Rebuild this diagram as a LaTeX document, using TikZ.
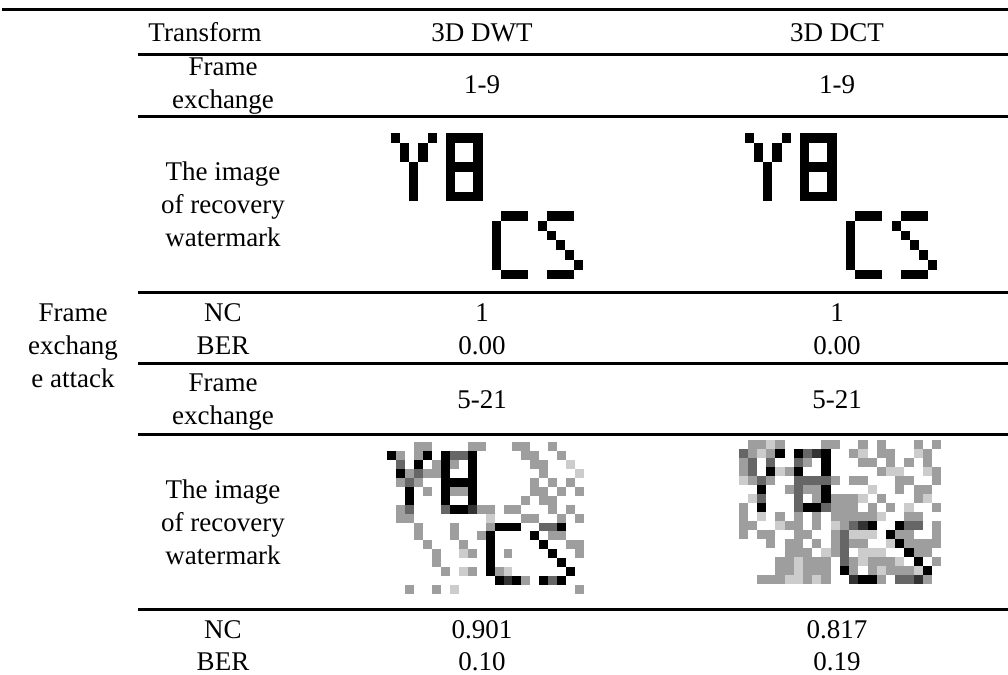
\documentclass[tikz,border=0pt]{standalone}
\usepackage{fontspec}
\setmainfont{Liberation Serif}
\begin{document}
\begin{tikzpicture}[x=1bp,y=-1bp,
  cell/.style={font=\fontsize{27bp}{33bp}\selectfont, inner sep=0pt, anchor=base},
  hrule/.style={line width=3bp},
]
\definecolor{pxK}{gray}{0}
\definecolor{pxD}{gray}{0.2}
\definecolor{pxM}{gray}{0.4}
\definecolor{pxG}{gray}{0.62}
\definecolor{pxL}{gray}{0.8}
\useasboundingbox (0,0) rectangle (1008,675);

% ---------- horizontal rules ----------
\coordinate (r0a) at (2,9.7);     \coordinate (r0b) at (1008,9.7);
\coordinate (r1a) at (138,54.5);  \coordinate (r1b) at (1008,54.5);
\coordinate (r2a) at (138,116.5); \coordinate (r2b) at (1008,116.5);
\coordinate (r3a) at (138,292.3); \coordinate (r3b) at (1008,292.3);
\coordinate (r4a) at (138,363.3); \coordinate (r4b) at (1008,363.3);
\coordinate (r5a) at (138,434.5); \coordinate (r5b) at (1008,434.5);
\coordinate (r6a) at (138,609.3); \coordinate (r6b) at (1008,609.3);
\foreach \i in {0,...,6} \draw[hrule] (r\i a) -- (r\i b);

% ---------- text ----------
\def\cA{73} \def\cB{223} \def\cC{482} \def\cD{837}
\node[cell] (hT) at (205,41.5) {Transform};
\node[cell] (hW) at (\cC,41.5) {3D DWT};
\node[cell] (hC) at (\cD,41.5) {3D DCT};

\node[cell] (feAa) at (\cB,75.5) {Frame};
\node[cell] (feAb) at (\cB,108.5) {exchange};
\node[cell] (feAw) at (\cC,94) {1-9};
\node[cell] (feAc) at (\cD,94) {1-9};

\node[cell] (imAa) at (\cB,180.4) {The image};
\node[cell] (imAb) at (\cB,213.4) {of recovery};
\node[cell] (imAc) at (\cB,246.4) {watermark};

\node[cell] (ncA)  at (\cB,321.7) {NC};
\node[cell] (berA) at (\cB,354.7) {BER};
\node[cell] (ncAw) at (\cC,321.7) {1};
\node[cell] (beAw) at (\cC,354.7) {0.00};
\node[cell] (ncAc) at (\cD,321.7) {1};
\node[cell] (beAc) at (\cD,354.7) {0.00};

\node[cell] (labA) at (\cA,321.7) {Frame};
\node[cell] (labB) at (\cA,354.7) {exchang};
\node[cell] (labC) at (\cA,387.7) {e attack};

\node[cell] (feBa) at (\cB,391.7) {Frame};
\node[cell] (feBb) at (\cB,424.7) {exchange};
\node[cell] (feBw) at (\cC,408) {5-21};
\node[cell] (feBc) at (\cD,408) {5-21};

\node[cell] (imBa) at (\cB,498.4) {The image};
\node[cell] (imBb) at (\cB,531.4) {of recovery};
\node[cell] (imBc) at (\cB,564.4) {watermark};

\node[cell] (ncB)  at (\cB,638.5) {NC};
\node[cell] (berB) at (\cB,670.5) {BER};
\node[cell] (ncBw) at (\cC,638.5) {0.901};
\node[cell] (beBw) at (\cC,670.5) {0.10};
\node[cell] (ncBc) at (\cD,638.5) {0.817};
\node[cell] (beBc) at (\cD,670.5) {0.19};

% ---------- watermark bitmaps ----------
\def\cleanmark{0/0,4/0,1/1,3/1,1/2,3/2,2/3,2/4,2/5,2/6,
 6/0,7/0,8/0,9/0,6/1,9/1,6/2,9/2,6/3,7/3,8/3,9/3,6/4,9/4,6/5,9/5,6/6,7/6,8/6,9/6,
 12/8,13/8,14/8,11/9,11/10,11/11,11/12,11/13,12/14,13/14,14/14,
 17/8,18/8,19/8,16/9,17/10,18/11,19/12,20/13,17/14,18/14,19/14}

\begin{scope}[shift={(391,133.3)},x=9.16bp,y=-9.73bp]
  \foreach \c/\r in \cleanmark \fill[pxK] (\c,\r) rectangle ++(1,1);
\end{scope}
\begin{scope}[shift={(745,133.3)},x=9.16bp,y=-9.73bp]
  \foreach \c/\r in \cleanmark \fill[pxK] (\c,\r) rectangle ++(1,1);
\end{scope}

% DWT recovered after frame exchange 5-21
\begin{scope}[shift={(387.3,451.3)},x=8.94bp,y=-8.9bp]
  \foreach \c/\r in {3/-1,4/-1,9/-1,10/-1,14/-1,15/-1,18/-1,1/0,3/0,15/0,16/0,19/0,
   5/1,7/1,16/1,17/1,2/2,4/2,5/2,17/2,1/3,3/3,16/3,18/3,20/3,
   4/4,7/4,8/4,16/4,17/4,19/4,21/4,15/5,17/5,18/5,1/6,10/6,11/6,13/6,14/6,18/6,20/6,
   1/7,2/7,15/7,16/7,19/7,21/7,3/8,7/8,11/8,3/9,7/9,10/9,18/9,19/9,
   4/10,8/10,20/10,21/10,5/11,9/11,13/11,21/11,5/12,6/13,9/13,12/13,15/14,2/15,5/15,21/15}
   \fill[pxG] (\c,\r) rectangle ++(1,1);
  \foreach \c/\r in {20/1,21/2,11/7,8/11,8/13,13/13,7/15}
   \fill[pxL] (\c,\r) rectangle ++(1,1);
  \foreach \c/\r in {7/0,8/0,1/1,3/2,2/3,2/6,6/6,17/8,18/8,18/14}
   \fill[pxM] (\c,\r) rectangle ++(1,1);
  \foreach \c/\r in {9/6,13/14}
   \fill[pxD] (\c,\r) rectangle ++(1,1);
  \foreach \c/\r in {0/0,4/0,6/0,9/0,3/1,6/1,9/1,1/2,6/2,9/2,6/3,7/3,8/3,9/3,
   2/4,6/4,9/4,2/5,6/5,9/5,7/6,8/6,12/8,13/8,14/8,19/8,11/9,16/9,11/10,17/10,
   11/11,18/11,11/12,19/12,11/13,20/13,12/14,14/14,17/14,19/14}
   \fill[pxK] (\c,\r) rectangle ++(1,1);
\end{scope}

% DCT recovered after frame exchange 5-21
\begin{scope}[shift={(738.5,449)},x=9.22bp,y=-8.98bp]
  \foreach \c/\r in {1/-1,2/-1,4/-1,9/-1,10/-1,13/-1,15/-1,19/-1,21/-1,
   1/0,3/0,12/0,15/0,16/0,20/0,0/1,7/1,13/1,14/1,16/1,18/1,20/1,0/2,5/2,15/2,21/2,
   1/3,3/3,10/3,12/3,13/3,17/3,18/3,21/3,5/4,7/4,8/4,17/4,19/4,20/4,
   8/5,10/5,11/5,12/5,15/5,19/5,0/6,10/6,11/6,12/6,14/6,16/6,21/6,
   0/7,4/7,6/7,8/7,10/7,11/7,12/7,13/7,14/7,18/7,19/7,0/8,1/8,5/8,6/8,8/8,11/8,21/8,
   0/9,2/9,3/9,6/9,7/9,10/9,17/9,18/9,21/9,3/10,5/10,6/10,8/10,10/10,12/10,13/10,
   18/10,19/10,20/10,21/10,5/11,6/11,7/11,10/11,19/11,20/11,
   4/12,5/12,7/12,8/12,9/12,12/12,14/12,15/12,16/12,21/12,
   4/13,5/13,7/13,8/13,9/13,12/13,14/13,16/13,17/13,18/13,2/14,3/14,4/14,7/14,9/14,15/14,20/14}
   \fill[pxG] (\c,\r) rectangle ++(1,1);
  \foreach \c/\r in {3/-1,2/0,13/0,19/0,4/2,16/2,17/2,20/2,0/3,14/4,1/5,13/5,20/5,18/6,
   2/7,15/7,4/8,10/8,12/9,13/9,14/9,16/10,9/11,13/11,14/11,15/11,6/12,13/12,17/12,
   6/13,15/13,19/13,5/14,6/14,8/14}
   \fill[pxL] (\c,\r) rectangle ++(1,1);
  \foreach \c/\r in {0/0,7/0,1/1,3/1,6/1,1/2,2/3,6/3,7/3,8/3,9/3,6/4,2/5,6/5,6/6,9/6,
   12/8,18/8,19/8,11/9,11/10,11/11,11/12,17/14,18/14}
   \fill[pxM] (\c,\r) rectangle ++(1,1);
  \foreach \c/\r in {8/0,13/8,12/14,19/14}
   \fill[pxD] (\c,\r) rectangle ++(1,1);
  \foreach \c/\r in {4/0,6/0,9/0,9/1,3/2,6/2,9/2,2/4,9/4,9/5,2/6,7/6,8/6,14/8,17/8,
   16/9,17/10,18/11,19/12,11/13,20/13,13/14,14/14}
   \fill[pxK] (\c,\r) rectangle ++(1,1);
\end{scope}
\end{tikzpicture}
\end{document}
